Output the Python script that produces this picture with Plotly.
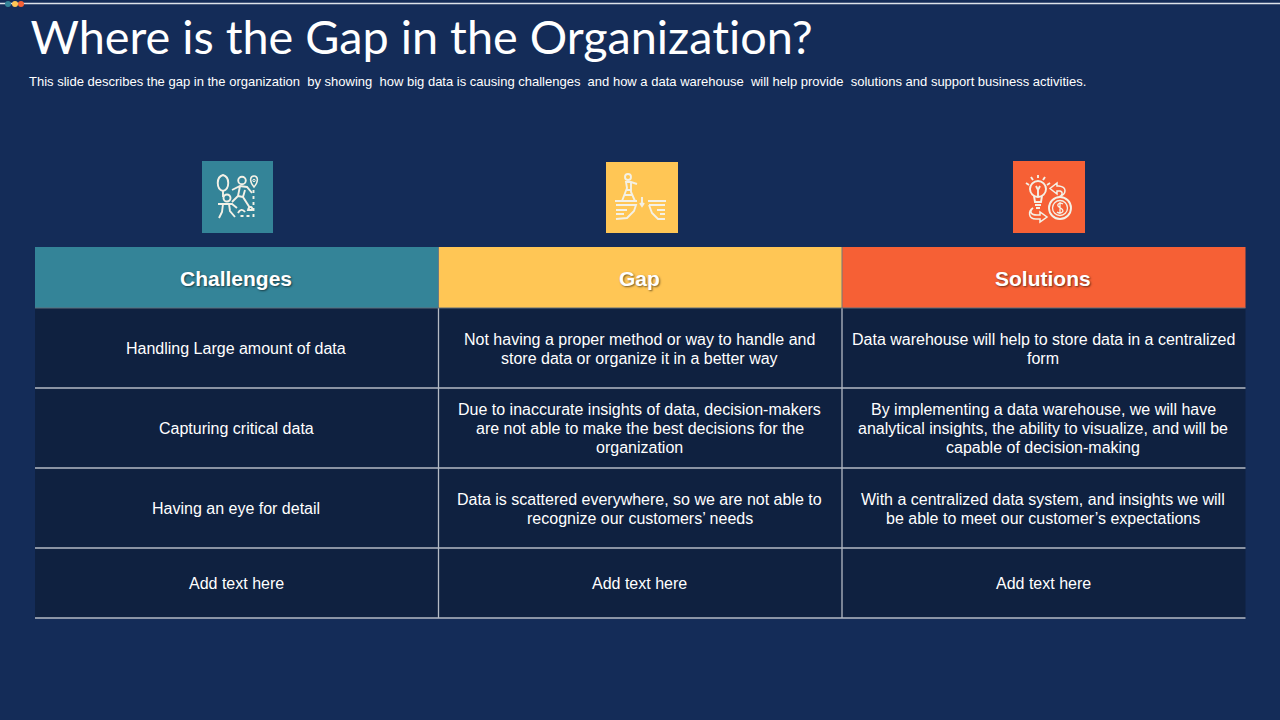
import plotly.graph_objects as go

title = "Where is the Gap in the Organization?"
subtitle = ("This slide describes the gap in the organization  by showing  how big data is causing challenges  and how "
            "a data warehouse  will help provide  solutions and support business activities.")

headers = ["Challenges", "Gap", "Solutions"]
header_colors = ["#348498", "#FFC655", "#F66035"]
challenges = ["Handling Large amount of data", "Capturing critical data", "Having an eye for detail", "Add text here"]
gap = ["Not having a proper method or way to handle and\nstore data or organize it in a better way",
       "Due to inaccurate insights of data, decision-makers\nare not able to make the best decisions for the\norganization",
       "Data is scattered everywhere, so we are not able to\nrecognize our customers\u2019 needs",
       "Add text here"]
solutions = ["Data warehouse will help to store data in a centralized\nform",
             "By implementing a data warehouse, we will have\nanalytical insights, the ability to visualize, and will be\ncapable of decision-making",
             "With a centralized data system, and insights we will\nbe able to meet our customer\u2019s expectations",
             "Add text here"]
columns = [challenges, gap, solutions]

col_edges = [35, 438.5, 842, 1245.5]
row_edges = [247, 308, 388, 468, 548, 618]
icon_boxes = [(202, 161, 273, 233), (606, 162, 678, 233), (1013, 161, 1085, 233)]

BG = "#142C58"
CELL = "#0F2140"
RULE = "#B4BAC4"
ICON = "#F4F1E6"

shapes = []
annotations = []


def rect(x0, y0, x1, y1, fill):
    shapes.append(dict(type="rect", x0=x0, y0=y0, x1=x1, y1=y1, fillcolor=fill, line_width=0, layer="below"))


def line(x0, y0, x1, y1, color=RULE, width=1.3):
    shapes.append(dict(type="line", x0=x0, y0=y0, x1=x1, y1=y1, line=dict(color=color, width=width)))


def stroke(path, width=1.9, dash="solid"):
    shapes.append(dict(type="path", path=path, line=dict(color=ICON, width=width, dash=dash)))


def circle(cx, cy, r, width=1.9):
    shapes.append(dict(type="circle", x0=cx - r, y0=cy - r, x1=cx + r, y1=cy + r, line=dict(color=ICON, width=width)))


def text(x, y, s, size, color="white", family="Liberation Sans", anchor="center", shadow=None):
    font = dict(size=size, color=color, family=family)
    if shadow:
        font["shadow"] = shadow
    annotations.append(dict(x=x, y=y, text=s, showarrow=False, xanchor=anchor, yanchor="middle",
                            font=font, xref="x", yref="y"))


# top strip
line(0, 3.5, 1280, 3.5, color="#DDE3EA", width=1.3)
for cx, c in zip([8, 15, 21], header_colors):
    shapes.append(dict(type="circle", x0=cx - 3, y0=1, x1=cx + 3, y1=7, fillcolor=c, line_width=0))

text(28, 36, title, 46.8, family="Lato", anchor="left")
text(27, 81.5, subtitle, 13, anchor="left")

# table
rect(col_edges[0], row_edges[1], col_edges[-1], row_edges[-1], CELL)
for i, h in enumerate(headers):
    rect(col_edges[i], row_edges[0], col_edges[i + 1], row_edges[1], header_colors[i])
    cx = (col_edges[i] + col_edges[i + 1]) / 2 - 0.7
    text(cx, 278.5, "<b>" + h + "</b>", 21, shadow="1px 1px 2px rgba(0,0,0,0.55)")
    for r, cell in enumerate(columns[i]):
        cy = (row_edges[r + 1] + row_edges[r + 2]) / 2
        rows = cell.split("\n")
        nudge = 1 if len(rows) == 2 else 0
        for k, s in enumerate(rows):
            text(cx, cy + nudge + (k - (len(rows) - 1) / 2) * 19, s, 16)

for y in row_edges[2:]:
    line(col_edges[0], y, col_edges[-1], y)
for x in col_edges[1:3]:
    line(x, row_edges[1], x, row_edges[-1])
    line(x, row_edges[0], x, row_edges[1], color="#6F7A80", width=1)
line(col_edges[0], row_edges[1], col_edges[-1], row_edges[1], color="#5F6E7C", width=1)

# icons
for (x0, y0, x1, y1), c in zip(icon_boxes, header_colors):
    rect(x0, y0, x1, y1, c)

# people and tree
stroke("M 223 191 C 216 189 216 177 223 175 C 230 177 230 189 223 191 Z M 223 191 L 223 197")
circle(242, 180.5, 3.8)
stroke("M 232 190 L 240 186 L 247 187 L 252 193 M 240 186 L 238 196 L 232 202 M 245 190 L 243 197 L 250 208 M 238 196 L 243 197")
circle(227, 198, 3.5)
stroke("M 218 204 L 232 204 L 237 208 M 223 204 L 222 212 L 219 218 M 229 204 L 230 211 L 235 217")
stroke("M 254 176 C 250 176 249 181 254 187 C 259 181 258 176 254 176 Z", width=1.5)
circle(254, 180.5, 1.2, width=1)
stroke("M 253.5 190 L 253.5 216 L 238 216", dash="dot")
stroke("M 238 213 C 240 209 243 209 245 212 M 248 210 C 249 206 253 206 252 210 Z")

# cliffs and hiker
circle(628, 177, 3)
stroke("M 622 201 L 627 188 L 626 182 L 631 182 L 637 184 M 631 182 L 631 192 L 635 201 M 627 190 L 631 190 M 625 195 L 632 195")
stroke("M 615 201 L 637 201 M 616 205 L 636 205 L 634 211 L 627 218 L 616 219 M 616 210 L 627 210 M 616 214 L 624 214")
stroke("M 648 201 L 666 201 M 649 205 L 665 205 M 649 205 L 652 213 L 658 219 L 665 219 M 657 210 L 665 210 M 660 214 L 665 214")
stroke("M 642 197 L 642 205 M 640 203 L 642 206 L 644 203")

# bulb, coin and arrows
circle(1038, 189, 8)
stroke("M 1034 196 L 1035 202 L 1041 202 L 1042 196 M 1035 205 L 1041 205 M 1036 208 L 1040 208 M 1036 186 L 1038 190 L 1040 186 M 1038 190 L 1038 196")
stroke("M 1026 183 L 1029 185 M 1038 175 L 1038 178 M 1050 183 L 1047 185 M 1031 177 L 1033 180 M 1045 177 L 1043 180")
circle(1060, 208, 11)
circle(1060, 208, 7.5, width=1.3)
stroke("M 1063 204 C 1060 202 1057 204 1058 206 C 1059 208 1063 208 1063 211 C 1062 214 1058 213 1057 212 M 1060 202 L 1060 214", width=1.3)
stroke("M 1059 197 C 1067 194 1067 187 1059 186 L 1057 186 L 1057 183 L 1050 188.5 L 1057 194 L 1057 191 L 1060 191 C 1063 192 1063 195 1059 197 Z", width=1.5)
stroke("M 1033 208 C 1029 212 1031 215 1037 215 L 1040 215 L 1040 212 L 1047 217 L 1040 222 L 1040 219 L 1036 219 C 1028 219 1028 211 1033 208 Z", width=1.5)

fig = go.Figure()
fig.update_layout(
    width=1280, height=720,
    margin=dict(l=0, r=0, t=0, b=0),
    paper_bgcolor=BG, plot_bgcolor=BG,
    xaxis=dict(range=[0, 1280], visible=False, fixedrange=True),
    yaxis=dict(range=[720, 0], visible=False, fixedrange=True),
    shapes=shapes, annotations=annotations,
    showlegend=False,
)

# plotly writes font-variant inline, so the ligature rule has to be !important
page_css = "var s=document.createElement('style');s.textContent='text{font-variant-ligatures:none !important}';document.head.appendChild(s);"
fig.write_html("out.html", config=dict(displayModeBar=False),
               post_script=page_css + "document.body.style.margin='0';document.body.style.overflow='hidden';")
